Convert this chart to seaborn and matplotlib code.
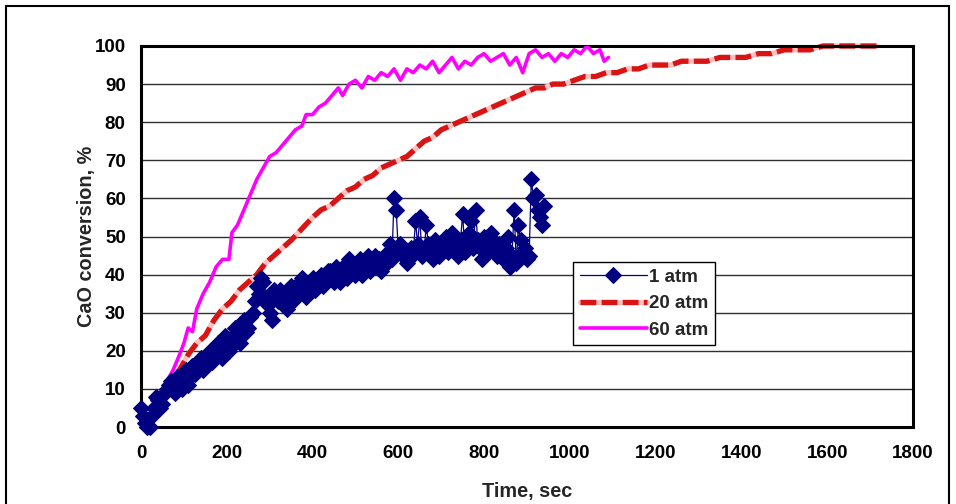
"""
CaO conversion vs time at three CO2 pressures
"""

import numpy as np
import matplotlib
matplotlib.use("Agg")
import matplotlib.pyplot as plt
from matplotlib.patches import Rectangle
import seaborn as sns

# ---- data ----
# 1 atm: two interleaved sample sets (every 10 s, offset by 5 s)
t_1atm_a = np.arange(0, 941, 10)
conv_1atm_a = [5, 1, 0, 5, 7, 6, 10, 12, 9, 12,
               14, 11, 16, 15, 18, 16, 20, 19, 22, 18,
               23, 21, 26, 22, 28, 26, 30, 37, 39, 34,
               30, 36, 33, 35, 31, 37, 34, 38, 36, 35,
               39, 37, 40, 38, 41, 38, 40, 42, 39, 43,
               40, 44, 41, 45, 42, 43, 41, 44, 48, 60,
               46, 45, 43, 47, 54, 55, 46, 48, 44, 47,
               46, 50, 47, 49, 45, 56, 48, 54, 57, 47,
               50, 46, 49, 45, 48, 47, 42, 57, 53, 46,
               44, 65, 61, 55, 58]
t_1atm_b = np.arange(5, 936, 10)
conv_1atm_b = [3, 0, 3, 8, 5, 9, 11, 10, 13, 10,
               15, 13, 14, 17, 15, 19, 17, 21, 20, 24,
               20, 24, 23, 27, 25, 29, 33, 35, 38, 32,
               28, 34, 36, 32, 35, 33, 36, 39, 34, 38,
               36, 39, 37, 41, 39, 42, 38, 41, 44, 41,
               42, 40, 43, 41, 45, 44, 42, 46, 44, 57,
               48, 46, 44, 46, 48, 45, 53, 46, 49, 45,
               48, 46, 51, 47, 49, 46, 51, 47, 49, 44,
               48, 51, 46, 48, 44, 50, 45, 43, 49, 47,
               45, 60, 57, 53]

t_20atm = [0, 15, 30, 50, 70, 90, 110, 130, 150, 170,
           190, 210, 230, 250, 270, 290, 310, 330, 350, 375,
           400, 420, 440, 460, 480, 500, 520, 540, 560, 580,
           600, 620, 640, 660, 680, 700, 720, 740, 760, 780,
           800, 820, 840, 860, 880, 900, 920, 940, 960, 985,
           1010, 1035, 1060, 1085, 1110, 1135, 1160, 1185, 1210, 1235,
           1260, 1290, 1320, 1350, 1380, 1410, 1440, 1470, 1500, 1530,
           1560, 1590, 1620, 1650, 1680, 1715]
conv_20atm = [0, 2, 5, 8, 12, 15, 19, 22, 24, 28,
              31, 33, 36, 38, 40, 43, 45, 47, 49, 52,
              55, 57, 58, 60, 62, 63, 65, 66, 68, 69,
              70, 71, 73, 75, 76, 78, 79, 80, 81, 82,
              83, 84, 85, 86, 87, 88, 89, 89, 90, 90,
              91, 92, 92, 93, 93, 94, 94, 95, 95, 95,
              96, 96, 96, 97, 97, 97, 98, 98, 99, 99,
              99, 100, 100, 100, 100, 100]

t_60atm = [20, 30, 45, 60, 75, 90, 100, 110, 120, 130,
           145, 160, 175, 190, 205, 212, 225, 240, 255, 270,
           285, 300, 315, 330, 345, 360, 375, 385, 400, 415,
           430, 445, 460, 470, 485, 500, 515, 530, 545, 560,
           575, 590, 605, 620, 635, 650, 665, 680, 695, 710,
           725, 740, 755, 770, 785, 800, 815, 830, 845, 860,
           875, 890, 905, 920, 935, 950, 965, 980, 995, 1010,
           1025, 1040, 1055, 1070, 1080, 1090]
conv_60atm = [2, 5, 9, 12, 15, 19, 22, 26, 25, 31,
              35, 38, 42, 44, 44, 51, 53, 57, 61, 65,
              68, 71, 72, 74, 76, 78, 79, 82, 82, 84,
              85, 87, 89, 87, 90, 91, 89, 92, 91, 93,
              92, 94, 91, 94, 93, 95, 94, 96, 93, 95,
              97, 94, 96, 95, 97, 98, 96, 97, 98, 95,
              97, 93, 98, 99, 97, 98, 96, 98, 97, 99,
              98, 100, 98, 99, 96, 97]

x_ticks = [0, 200, 400, 600, 800, 1000, 1200, 1400, 1600, 1800]
y_ticks = [0, 10, 20, 30, 40, 50, 60, 70, 80, 90, 100]

# merge the two 1 atm sample sets in time order
t_1atm = np.concatenate([t_1atm_a, t_1atm_b])
conv_1atm = np.concatenate([conv_1atm_a, conv_1atm_b])
order = np.argsort(t_1atm, kind='stable')
t_1atm, conv_1atm = t_1atm[order], conv_1atm[order]

sns.set_style("white")
plt.rcParams['font.family'] = ['Liberation Sans', 'DejaVu Sans']
plt.rcParams['font.weight'] = 'bold'

fig = plt.figure(figsize=(9.56, 5.04), dpi=100)
ax = fig.add_axes([141 / 956, 1 - 427 / 504, 772 / 956, 381 / 504])

# outer frame of the figure
fig.patches.append(Rectangle((6 / 956, -0.02), 943 / 956, 1 - 6 / 504 + 0.02,
                             transform=fig.transFigure, fill=False,
                             edgecolor='black', linewidth=1.5))

# horizontal gridlines
for yv in y_ticks[1:-1]:
    ax.axhline(yv, color='#303030', linewidth=1.0, zorder=0)

# 60 atm
sns.lineplot(x=t_60atm, y=conv_60atm, ax=ax, color='#ff00ff',
             linewidth=2.6, estimator=None, sort=False, zorder=3)
l60 = ax.lines[-1]

# 20 atm: pink underlay + red dashes
sns.lineplot(x=t_20atm, y=conv_20atm, ax=ax, color='#ffc0c0',
             linewidth=3.8, estimator=None, sort=False, zorder=2)
l20a = ax.lines[-1]
sns.lineplot(x=t_20atm, y=conv_20atm, ax=ax, color='#d81414',
             linewidth=3.8, estimator=None, sort=False, zorder=2)
l20b = ax.lines[-1]
l20b.set_dashes([3, 1])
l20b.set_dash_capstyle('butt')
l20a.set_clip_on(False)
l20b.set_clip_on(False)

# 1 atm
sns.lineplot(x=t_1atm, y=conv_1atm, ax=ax, color='#000080',
             linewidth=0.9, marker='D', markersize=8.5,
             markeredgecolor='#000080', estimator=None, sort=False, zorder=4)
l1 = ax.lines[-1]
l1.set_clip_on(False)

ax.set_xlim(0, 1800)
ax.set_ylim(0, 100)
ax.set_xticks(x_ticks)
ax.set_yticks(y_ticks)
ax.tick_params(axis='both', direction='in', length=5, width=1.5,
               labelsize=13.5, colors='black')
ax.tick_params(axis='x', pad=13)
ax.tick_params(axis='y', pad=11)
for lab in ax.get_xticklabels() + ax.get_yticklabels():
    lab.set_fontweight('bold')

for sp in ax.spines.values():
    sp.set_visible(True)
    sp.set_color('black')
    sp.set_linewidth(2.2)

ax.set_xlabel("Time, sec", fontsize=14.3, fontweight='bold', labelpad=14)
ax.set_ylabel("CaO conversion, %", fontsize=14.3, fontweight='bold', labelpad=-1)

leg = ax.legend([l1, (l20a, l20b), l60], ["1 atm", "20 atm", "60 atm"],
                loc='upper left', bbox_to_anchor=(0.5596, 0.433),
                borderaxespad=0, frameon=True, fancybox=False, framealpha=1,
                edgecolor='black', handlelength=3.6, handletextpad=0.12,
                borderpad=0.35, labelspacing=0.5,
                prop={'weight': 'bold', 'size': 13.5})
leg.get_frame().set_linewidth(1.0)
leg.set_zorder(10)

plt.savefig("out.png", dpi=100)
